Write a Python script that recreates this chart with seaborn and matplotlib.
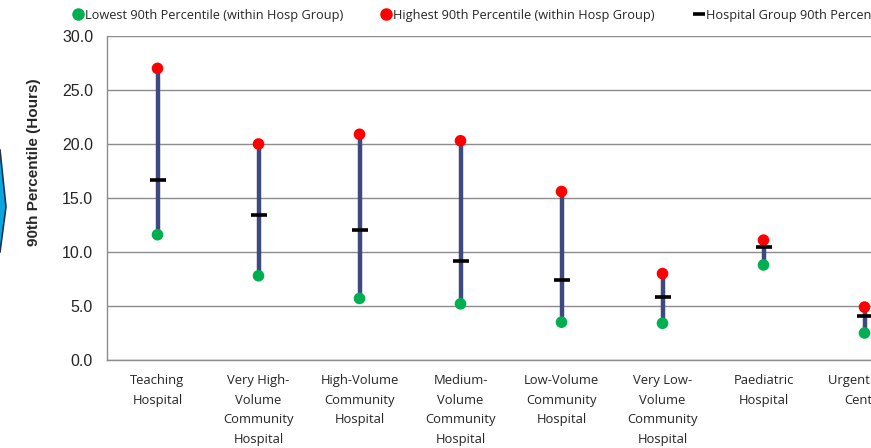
import matplotlib
matplotlib.use("Agg")
import matplotlib.pyplot as plt
from matplotlib.lines import Line2D
from matplotlib.patches import Polygon
import seaborn as sns
import pandas as pd
import numpy as np

# Hospital groups and 90th percentile values (hours)
groups = ["Teaching\nHospital", "Very High-\nVolume\nCommunity\nHospital",
          "High-Volume\nCommunity\nHospital", "Medium-\nVolume\nCommunity\nHospital",
          "Low-Volume\nCommunity\nHospital", "Very Low-\nVolume\nCommunity\nHospital",
          "Paediatric\nHospital", "Urgent Care\nCentre"]
lowest = [11.6, 7.8, 5.7, 5.2, 3.5, 3.4, 8.8, 2.5]
highest = [27.0, 20.0, 20.9, 20.3, 15.6, 8.0, 11.1, 4.9]
group_p90 = [16.7, 13.4, 12.0, 9.2, 7.4, 5.8, 10.5, 4.1]

sns.set_style("white")
plt.rcParams['font.family'] = ['Liberation Sans', 'DejaVu Sans']

df = pd.DataFrame({"group": groups, "low": lowest, "high": highest, "mid": group_p90})
df["pos"] = np.arange(len(df))

fig = plt.figure(figsize=(8.71, 4.48), dpi=100)
ax = fig.add_axes([107 / 871, 88 / 448, 808 / 871, 324 / 448])

# range bars
ax.vlines(df["pos"], df["low"], df["high"], color="#3D4A80", linewidth=3.2, zorder=3)
sns.scatterplot(data=df, x="pos", y="low", color="#00B050", s=70, edgecolor="none",
                ax=ax, zorder=4)
sns.scatterplot(data=df, x="pos", y="high", color="#FF0000", s=70, edgecolor="none",
                ax=ax, zorder=4)
ax.plot(df["pos"], df["mid"], linestyle="none", marker="_", markersize=11,
        markeredgewidth=2.6, color="black", zorder=5)

ax.set_ylim(0, 30)
ax.set_xlim(-0.5, len(df) - 0.5)
ax.set_yticks(np.arange(0, 30.1, 5))
ax.set_yticklabels([f"{v:.1f}" for v in np.arange(0, 30.1, 5)], fontsize=11.5)
ax.yaxis.grid(True, color="#8C8C8C", linewidth=1)
ax.set_axisbelow(True)

ax.set_xticks(np.arange(-0.5, len(df), 1))
ax.set_xticklabels([])
ax.set_xticks(df["pos"], minor=True)
ax.set_xticklabels(groups, minor=True, fontsize=9.4, family="Open Sans", linespacing=1.68)
ax.tick_params(axis="x", which="minor", length=0, pad=10)
ax.tick_params(axis="x", which="major", length=5, color="#8C8C8C", direction="out")
ax.tick_params(axis="y", length=5, color="#8C8C8C", direction="out", pad=5)
ax.set_xlabel("")
ax.set_ylabel("")
for side in ["top", "right"]:
    ax.spines[side].set_visible(False)
for side in ["left", "bottom"]:
    ax.spines[side].set_color("#8C8C8C")
    ax.spines[side].set_linewidth(1)

fig.text(34 / 871, 1 - 162 / 448, "90th Percentile (Hours)", rotation=90,
         fontsize=11, fontweight="bold", ha="center", va="center")

handles = [
    Line2D([], [], linestyle="none", marker="o", markersize=8, color="#00B050"),
    Line2D([], [], linestyle="none", marker="o", markersize=8, color="#FF0000"),
    Line2D([], [], linestyle="none", marker="_", markersize=9, markeredgewidth=2.6, color="black"),
]
labels = ["Lowest 90th Percentile (within Hosp Group)",
          "Highest 90th Percentile (within Hosp Group)",
          "Hospital Group 90th Percentile"]
fig.legend(handles, labels, loc="center left", bbox_to_anchor=(61 / 871, 1 - 15 / 448),
           ncol=3, frameon=False, handlelength=0.8, handletextpad=0.15,
           columnspacing=3.0, prop={"family": "Open Sans", "size": 9.2})

# cropped chevron shape at the left edge
fig.patches.append(Polygon([(-0.02, 1 - 150 / 448), (0, 1 - 150 / 448),
                            (6 / 871, 1 - 207 / 448), (0, 1 - 252 / 448),
                            (-0.02, 1 - 252 / 448)],
                           closed=True, transform=fig.transFigure,
                           facecolor="#0AA6DE", edgecolor="#1F3050", linewidth=1.2))

fig.savefig("out.png", dpi=100)
